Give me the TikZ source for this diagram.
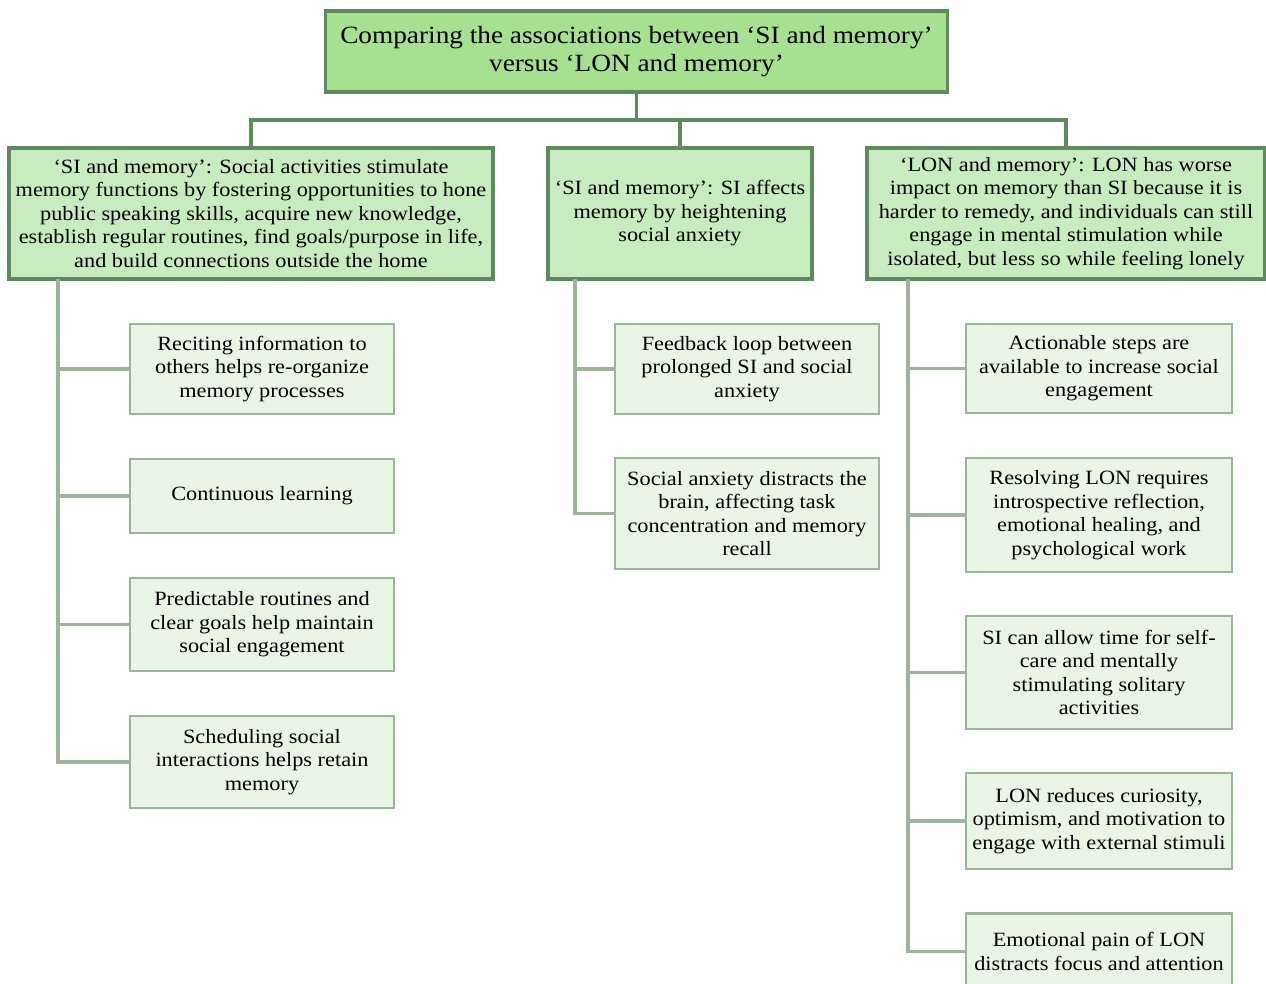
\documentclass[tikz,border=0pt]{standalone}
\usepackage{fontspec}
\setmainfont{Liberation Serif}[FakeStretch=1.1]
\definecolor{dkgreen}{RGB}{94,138,94}
\definecolor{topfill}{RGB}{168,224,146}
\definecolor{midfill}{RGB}{201,235,192}
\definecolor{leaffill}{RGB}{234,246,229}
\definecolor{leafline}{RGB}{156,179,156}
\tikzset{
  topbox/.style={draw=dkgreen, fill=topfill, line width=2.4pt, inner sep=0pt, align=center,
    font=\fontsize{18.6}{21}\selectfont},
  midbox/.style={draw=dkgreen, fill=midfill, line width=2.4pt, inner sep=0pt, align=center,
    font=\fontsize{15.2}{17.6}\selectfont},
  leaf/.style={draw=leafline, fill=leaffill, line width=2.1pt, inner sep=0pt, align=center,
    minimum width=198pt, font=\fontsize{15.2}{17.6}\selectfont},
  link/.style={draw=dkgreen, line width=2.4pt},
  leaflink/.style={draw=leafline, line width=2.4pt},
}
\begin{document}
\begin{tikzpicture}[x=0.75pt,y=-0.75pt]
\useasboundingbox (0,0) rectangle (1266,983);
\begin{scope}
\clip (0,0) rectangle (1266,983);

% root
\node[topbox, minimum width=467pt, minimum height=60.75pt] (top) at (636.5,51.5)
  {Comparing the associations between ‘SI and memory’\\ versus ‘LON and memory’};

% second level
\node[midbox, minimum width=363pt, minimum height=98.25pt] (b1) at (251,213.5)
  {‘SI and memory’: Social activities stimulate\\
   memory functions by fostering opportunities to hone\\
   public speaking skills, acquire new knowledge,\\
   establish regular routines, find goals/purpose in life,\\
   and build connections outside the home};
\node[midbox, minimum width=198pt, minimum height=98.25pt] (b2) at (680,213.5)
  {‘SI and memory’: SI affects\\ memory by heightening\\ social anxiety};
\node[midbox, minimum width=298.5pt, minimum height=98.25pt] (b3) at (1066,213.5)
  {‘LON and memory’: LON has worse\\
   impact on memory than SI because it is\\
   harder to remedy, and individuals can still\\
   engage in mental stimulation while\\
   isolated, but less so while feeling lonely};

% root connectors
\coordinate (hub) at (636.5,120);
\draw[link] (top.south) -- (hub);
\draw[link] (b1.north) -- (b1.north |- hub) -- (b3.north |- hub) -- (b3.north);
\draw[link] (b2.north) -- (b2.north |- hub);

% left column
\node[leaf, minimum height=67.5pt] (c1) at (262,369)
  {Reciting information to\\ others helps re-organize\\ memory processes};
\node[leaf, minimum height=55.5pt] (c2) at (262,496)
  {Continuous learning};
\node[leaf, minimum height=69.75pt] (c3) at (262,624.5)
  {Predictable routines and\\ clear goals help maintain\\ social engagement};
\node[leaf, minimum height=69pt] (c4) at (262,762)
  {Scheduling social\\ interactions helps retain\\ memory};

% middle column
\node[leaf, minimum height=67.5pt] (m1) at (747,369)
  {Feedback loop between\\ prolonged SI and social\\ anxiety};
\node[leaf, minimum height=83.25pt] (m2) at (747,513.5)
  {Social anxiety distracts the\\ brain, affecting task\\ concentration and memory\\ recall};

% right column
\node[leaf, minimum width=199.5pt, minimum height=66.75pt] (r1) at (1099,368.5)
  {Actionable steps are\\ available to increase social\\ engagement};
\node[leaf, minimum width=199.5pt, minimum height=85.5pt] (r2) at (1099,515)
  {Resolving LON requires\\ introspective reflection,\\ emotional healing, and\\ psychological work};
\node[leaf, minimum width=199.5pt, minimum height=84.75pt] (r3) at (1099,672.5)
  {SI can allow time for self-\\ care and mentally\\ stimulating solitary\\ activities};
\node[leaf, minimum width=199.5pt, minimum height=72pt] (r4) at (1099,821)
  {LON reduces curiosity,\\ optimism, and motivation to\\ engage with external stimuli};
\node[leaf, minimum width=199.5pt, minimum height=57pt] (r5) at (1099,951.5)
  {Emotional pain of LON\\ distracts focus and attention};

% trunks and branches
\coordinate (t1) at (58,279);
\coordinate (t2) at (575,279);
\coordinate (t3) at (908,279);
\draw[leaflink] (t1) |- (c4.west);
\foreach \n in {c1,c2,c3} \draw[leaflink] (\n.west) -- (\n.west -| t1);
\draw[leaflink] (t2) |- (m2.west);
\draw[leaflink] (m1.west) -- (m1.west -| t2);
\draw[leaflink] (t3) |- (r5.west);
\foreach \n in {r1,r2,r3,r4} \draw[leaflink] (\n.west) -- (\n.west -| t3);
\end{scope}
\end{tikzpicture}
\end{document}
